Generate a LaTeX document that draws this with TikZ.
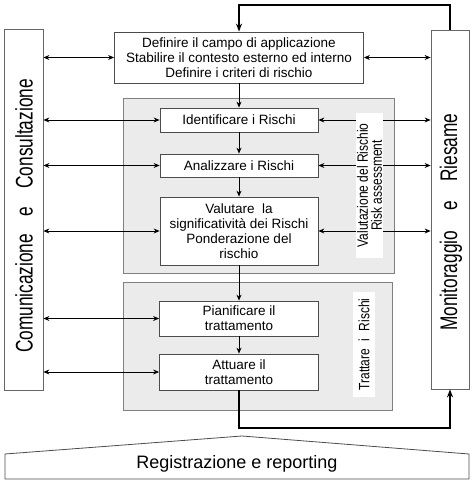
\documentclass[tikz,border=0pt]{standalone}
\usepackage{fontspec}
\setmainfont{Liberation Sans}
\newfontfamily\narrowfam{Liberation Sans}[FakeStretch=0.72]
\newfontfamily\tagfam{Liberation Sans}[FakeStretch=0.8]
\usetikzlibrary{arrows.meta}
\newcommand{\boxfont}{\fontsize{13.5}{15}\selectfont}
\newcommand{\sidefont}{\narrowfam\fontsize{24}{28}\selectfont}
\newcommand{\tagfont}{\tagfam\fontsize{15}{14}\selectfont}
\newcommand{\regfont}{\fontsize{18}{21}\selectfont}
\begin{document}
\begin{tikzpicture}[x=1pt, y=-1pt, >={Stealth[length=6pt,width=5pt]},
  every node/.style = {align=center, inner sep=0pt},
  stage/.style = {draw=black!70, fill=white, line width=0.8pt, font=\boxfont},
  panel/.style = {draw=black!50, fill=black!8, line width=0.8pt},
  sidebar/.style = {draw=black!60, fill=white, line width=0.8pt},
  sidetext/.style = {rotate=90, font=\sidefont},
  tag/.style = {fill=white, rotate=90, font=\tagfont},
  link/.style = {<->, line width=0.8pt},
  flow/.style = {->, line width=0.8pt},
  loop/.style = {-{Stealth[length=8pt,width=6pt]}, line width=2pt}]
  \useasboundingbox (0,0) rectangle (474,484);
  % side bars
  \node[sidebar, minimum width=39, minimum height=361] (com) at (23.5,209.5) {};
  \node[sidetext] (comtext) at (24,216)
    {Comunicazione\hspace{13pt} e\hspace{13pt} Consultazione};
  \node[sidebar, minimum width=38, minimum height=359] (mon) at (450,209.5) {};
  \node[sidetext] (montext) at (451,222)
    {Monitoraggio\hspace{15pt} e\hspace{15pt} Riesame};
  % grey panels
  \node[panel, minimum width=271, minimum height=175] (assess) at (258.5,185.5) {};
  \node[panel, minimum width=269, minimum height=128] (treat) at (257.5,346) {};
  % steps
  \node[stage, minimum width=249, minimum height=51] (ctx) at (239,57.5)
    {Definire il campo di applicazione\\ Stabilire il contesto esterno ed interno\\
     Definire i criteri di rischio};
  \node[stage, minimum width=158, minimum height=24] (id) at (239,120) {Identificare i Rischi};
  \node[stage, minimum width=158, minimum height=23] (an) at (239,165.5) {Analizzare i Rischi};
  \node[stage, minimum width=158, minimum height=68] (val) at (239,231)
    {Valutare\ \ la\\ significatività dei Rischi\\ Ponderazione del\\ rischio};
  \node[stage, minimum width=159, minimum height=35] (plan) at (239,318.5)
    {Pianificare il\\ trattamento};
  \node[stage, minimum width=159, minimum height=36] (act) at (239,372)
    {Attuare il\\ trattamento};
  % connectors
  \foreach \a/\b in {ctx/id, id/an, an/val, val/plan, plan/act}
    \draw[flow] (\a) -- (\b);
  \foreach \n in {ctx, id, an, val, plan, act}
    \draw[link] (com.east |- \n.west) -- (\n.west);
  \foreach \n in {ctx, id, an, val}
    \draw[link] (\n.east) -- (mon.west |- \n.east);
  % panel tags
  \node[tag, minimum width=145, minimum height=27] (assesstag) at (369.5,185.5)
    {Valutazione del Rischio\\ Risk assessment};
  \node[tag, minimum width=105, minimum height=22] (treattag) at (364,344.5)
    {Trattare\enspace i\enspace Rischi};
  % feedback
  \coordinate (topright) at (450,5);
  \coordinate (topleft) at (239,5);
  \draw[loop] (mon.north) -- (topright) -- (topleft) -- (ctx.north);
  \draw[loop] (act.south) -- ++(0,38) -| (mon.south);
  % reporting banner
  \draw[draw=black!70, line width=0.8pt] (5,479) -- (5,454) -- (242,436)
    -- (469,454) -- (469,479) -- cycle;
  \node[font=\regfont] (reg) at (237,464) {Registrazione e reporting};
\end{tikzpicture}
\end{document}
